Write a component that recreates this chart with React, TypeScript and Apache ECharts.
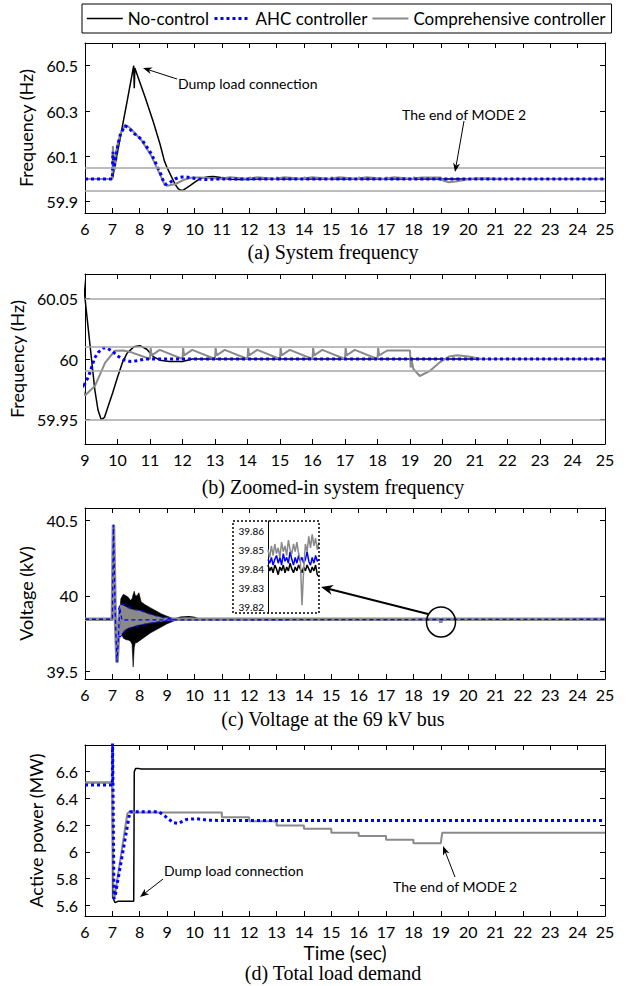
import React, { useEffect, useRef } from 'react';
import * as echarts from 'echarts';

const SANS = 'Lato';
const SERIF = 'Liberation Serif';

// ---------- legend / series names ----------
const seriesNames = ['No-control', 'AHC controller', 'Comprehensive controller'];

// ---------- tick values ----------
const xTicksFull = [6, 25];
const xTicksZoom = [9, 25];
const yTicksFreq = [59.9, 60.1, 60.3, 60.5];
const yTicksFreqZoom = [59.95, 60, 60.05];
const yTicksVolt = [39.5, 40, 40.5];
const yTicksPower = [5.6, 5.8, 6, 6.2, 6.4, 6.6];
const yTicksInset = [39.82, 39.83, 39.84, 39.85, 39.86];

// ---------- (a)/(b) system frequency [time s, Hz] ----------
const freqNoControl: number[][] = [
  [6, 60], [7, 60], [7.3, 60.19], [7.55, 60.35], [7.78, 60.5], [7.8, 60.4], [7.82, 60.49],
  [8.2, 60.36], [8.5, 60.25], [8.75, 60.15], [8.9, 60.08], [9.0, 60.05], [9.1, 60.025],
  [9.2, 60.0], [9.3, 59.975], [9.4, 59.958], [9.5, 59.95], [9.6, 59.952], [9.7, 59.96],
  [9.85, 59.972], [10.0, 59.985], [10.15, 59.997], [10.3, 60.005], [10.5, 60.01],
  [10.69, 60.011], [10.9, 60.008], [11.1, 60.002], [11.3, 59.999], [11.6, 59.998],
  [12.0, 59.998], [12.3, 60.0], [25, 60.0],
];
const freqAHC: number[][] = [
  [6, 60], [7, 60], [7.02, 60.12], [7.06, 60.05], [7.1, 60.07], [7.2, 60.15], [7.3, 60.2],
  [7.46, 60.235], [7.6, 60.225], [7.8, 60.2], [8.07, 60.175], [8.43, 60.11], [8.74, 60.03],
  [8.9, 59.98], [8.95, 59.976], [9.0, 59.98], [9.1, 59.985], [9.2, 59.993], [9.3, 60.001],
  [9.41, 60.0055], [9.56, 60.009], [9.67, 60.009], [9.82, 60.0068], [10.03, 60.002],
  [10.18, 59.9995], [10.38, 59.998], [10.59, 59.9986], [10.85, 60.0], [25, 60.0],
];
const freqComprehensive: number[][] = [
  [6, 60], [7, 60], [7.02, 60.145], [7.05, 60.05], [7.08, 60.04], [7.12, 60.11], [7.2, 60.16],
  [7.3, 60.2], [7.46, 60.237], [7.6, 60.23], [7.8, 60.205], [8.07, 60.17], [8.43, 60.1],
  [8.74, 60.02], [8.9, 59.976], [9.0, 59.97], [9.31, 59.978], [9.62, 59.997], [9.92, 60.0068],
  [10.18, 60.007], [10.43, 60.0055], [11, 60.0],
  [11.02, 60.009], [11.05, 60.003], [11.3, 60.0075], [12, 60.0],
  [12.02, 60.009], [12.05, 60.003], [12.3, 60.0075], [13, 60.0],
  [13.02, 60.009], [13.05, 60.003], [13.3, 60.0075], [14, 60.0],
  [14.02, 60.009], [14.05, 60.003], [14.3, 60.0075], [15, 60.0],
  [15.02, 60.009], [15.05, 60.003], [15.3, 60.0075], [16, 60.0],
  [16.02, 60.009], [16.05, 60.003], [16.3, 60.0075], [17, 60.0],
  [17.02, 60.009], [17.05, 60.003], [17.3, 60.0075], [18, 60.0],
  [18.02, 60.009], [18.05, 60.003], [18.3, 60.007], [19, 60.007],
  [19.02, 59.993], [19.05, 59.999], [19.1, 59.992], [19.3, 59.986], [19.6, 59.99],
  [19.9, 59.997], [20.2, 60.002], [20.45, 60.003], [20.8, 60.002], [21.2, 60.0], [25, 60.0],
];
const freqBandsWide = [60.05, 59.95];
const freqBandsZoom = [60.05, 59.95, 60.005, 59.995];

// ---------- (c) voltage at 69 kV bus [time s, kV] ----------
const voltNoControl: number[][] = [
  [6, 39.842], [7, 39.842], [7.04, 40.46], [7.1, 39.9], [7.17, 39.57], [7.25, 39.8],
  [7.3, 39.84], [9.3, 39.846], [9.5, 39.858], [9.8, 39.862], [10.0, 39.857],
  [10.15, 39.845], [25, 39.845],
];
const voltNoControlBandT = [7.25, 7.31, 7.4, 7.5, 7.58, 7.66, 7.72, 7.76, 7.8, 7.84, 7.9, 7.97, 8.05, 8.2, 8.4, 8.6, 8.8, 9.0, 9.2, 9.35];
const voltNoControlUpper = [39.86, 39.98, 40.01, 40.0, 39.99, 39.97, 39.98, 40.01, 40.03, 40.0, 40.0, 40.02, 39.96, 39.94, 39.92, 39.9, 39.88, 39.865, 39.852, 39.846];
const voltNoControlLower = [39.8, 39.76, 39.72, 39.71, 39.707, 39.7, 39.68, 39.53, 39.66, 39.69, 39.69, 39.7, 39.71, 39.73, 39.755, 39.775, 39.795, 39.815, 39.83, 39.842];

const voltComprehensive: number[][] = [
  [6, 39.845], [7, 39.845], [7.04, 40.47], [7.1, 39.9], [7.17, 39.56], [7.22, 39.72],
  [7.27, 39.92], [7.35, 39.84], [9.3, 39.845], [18.98, 39.845], [19.0, 39.822],
  [19.03, 39.845], [25, 39.845],
];
const voltCompBandT = [7.22, 7.3, 7.45, 7.6, 7.8, 8.0, 8.3, 8.6, 8.9, 9.1, 9.3];
const voltCompUpper = [39.9, 39.94, 39.93, 39.915, 39.905, 39.9, 39.88, 39.865, 39.852, 39.848, 39.846];
const voltCompLower = [39.74, 39.74, 39.775, 39.79, 39.8, 39.81, 39.82, 39.828, 39.835, 39.84, 39.843];

const voltAHC: number[][] = [
  [6, 39.845], [7, 39.845], [7.04, 40.47], [7.1, 39.9], [7.17, 39.56], [7.22, 39.72],
  [7.27, 39.92], [7.35, 39.84], [25, 39.845],
];
const voltAHCUpper = [39.91, 39.95, 39.94, 39.925, 39.91, 39.905, 39.885, 39.868, 39.854, 39.849, 39.846];
const voltAHCLower = [39.73, 39.73, 39.765, 39.783, 39.795, 39.805, 39.816, 39.825, 39.833, 39.839, 39.843];

// inset (zoom around t = 19 s)
const insetT = [18.40, 18.43, 18.46, 18.49, 18.52, 18.55, 18.58, 18.61, 18.64, 18.67, 18.70, 18.73, 18.76, 18.79, 18.82, 18.85, 18.88, 18.91, 18.94, 18.97, 19.00, 19.03, 19.06, 19.09, 19.12, 19.15, 19.18, 19.21, 19.24, 19.27, 19.30];
const insetNoControl = [39.842, 39.839, 39.841, 39.838, 39.842, 39.840, 39.837, 39.841, 39.839, 39.842, 39.838, 39.841, 39.839, 39.843, 39.840, 39.838, 39.841, 39.839, 39.842, 39.840, 39.838, 39.841, 39.839, 39.842, 39.840, 39.838, 39.841, 39.839, 39.842, 39.837, 39.836];
const insetAHC = [39.845, 39.843, 39.846, 39.842, 39.845, 39.847, 39.843, 39.846, 39.842, 39.848, 39.844, 39.846, 39.843, 39.849, 39.845, 39.842, 39.846, 39.843, 39.847, 39.844, 39.846, 39.843, 39.845, 39.849, 39.844, 39.842, 39.846, 39.843, 39.847, 39.844, 39.845];
const insetComprehensive = [39.850, 39.846, 39.852, 39.847, 39.853, 39.848, 39.851, 39.846, 39.854, 39.849, 39.852, 39.847, 39.855, 39.850, 39.848, 39.853, 39.849, 39.854, 39.848, 39.845, 39.821, 39.840, 39.853, 39.849, 39.857, 39.851, 39.858, 39.852, 39.856, 39.850, 39.854];

// ---------- (d) total load demand [time s, MW] ----------
const loadNoControl: number[][] = [
  [6, 6.52], [7, 6.52], [7.01, 5.66], [7.1, 5.62], [7.2, 5.63], [7.78, 5.63], [7.8, 6.6],
  [7.85, 6.625], [7.95, 6.625], [8.05, 6.62], [25, 6.62],
];
const loadAHC: number[][] = [
  [6, 6.5], [7, 6.5], [7.005, 6.9], [7.03, 6.9], [7.06, 5.65], [7.1, 5.67], [7.64, 6.3],
  [8.7, 6.3], [8.92, 6.268], [9.23, 6.218], [9.41, 6.213], [9.71, 6.243], [10.08, 6.248],
  [10.44, 6.238], [11, 6.235], [25, 6.235],
];
const loadComprehensive: number[][] = [
  [6, 6.52], [7, 6.52], [7.04, 5.66], [7.09, 5.67], [7.55, 6.29], [7.65, 6.295],
  [11, 6.295], [11, 6.26], [12, 6.26], [12, 6.23], [13, 6.23], [13, 6.198], [14, 6.198],
  [14, 6.173], [15, 6.173], [15, 6.143], [16, 6.143], [16, 6.118], [17, 6.118], [17, 6.09],
  [18, 6.09], [18, 6.064], [19, 6.064], [19.05, 6.143], [25, 6.143],
];

// ---------- styles ----------
const BLACK = { color: '#000000', width: 1.5, type: 'solid' };
const BLUE = { color: '#0000ff', width: 3, type: [3, 3] };
const GRAY = { color: '#8a8a8a', width: 2, type: 'solid' };

const fmt = (v: number) => String(Math.round(v * 1000) / 1000);

function xAx(gridIndex: number, min: number, max: number, labels: boolean, position: string, extra: any = {}) {
  return {
    type: 'value', gridIndex, min, max, interval: 1, position,
    axisLine: { show: true, onZero: false, lineStyle: { color: '#000', width: 1 } },
    axisTick: { show: true, inside: true, length: 5, lineStyle: { color: '#000' } },
    axisLabel: { show: labels, color: '#000', fontFamily: SANS, fontSize: 16, margin: 7 },
    splitLine: { show: false },
    ...extra,
  };
}
function yAx(gridIndex: number, min: number, max: number, ticks: number[], labels: boolean, position: string, extra: any = {}) {
  return {
    type: 'value', gridIndex, min, max, position,
    axisLine: { show: true, onZero: false, lineStyle: { color: '#000', width: 1 } },
    axisTick: { show: true, inside: true, length: 5, customValues: ticks, lineStyle: { color: '#000' } },
    axisLabel: { show: labels, customValues: ticks, formatter: fmt, color: '#000', fontFamily: SANS, fontSize: 16, margin: 7 },
    splitLine: { show: false },
    nameLocation: 'middle',
    nameTextStyle: { fontFamily: SANS, fontSize: 18, color: '#000' },
    ...extra,
  };
}

function line(name: string, data: number[][], axis: number, style: any, extra: any = {}) {
  return {
    type: 'line', name, data, xAxisIndex: axis, yAxisIndex: axis,
    symbol: 'none', showSymbol: false, silent: true, clip: true,
    lineStyle: style, itemStyle: { color: style.color }, ...extra,
  };
}

// filled envelope of a densely oscillating trace, drawn through the axes' scales
function band(t: number[], lower: number[], upper: number[], axis: number, color: string) {
  return {
    type: 'custom', xAxisIndex: axis, yAxisIndex: axis, silent: true, clip: true,
    data: [[t[0], lower[0]]],
    encode: { x: 0, y: 1 },
    renderItem: (_p: any, api: any) => {
      const pts: number[][] = [];
      t.forEach((x, i) => pts.push(api.coord([x, upper[i]])));
      for (let i = t.length - 1; i >= 0; i--) pts.push(api.coord([t[i], lower[i]]));
      return { type: 'polygon', shape: { points: pts }, style: { fill: color, stroke: color, lineWidth: 0.6 } };
    },
  };
}

function refLines(values: number[]) {
  return {
    silent: true, symbol: ['none', 'none'], label: { show: false },
    lineStyle: { color: '#a6a6a6', width: 1.5, type: 'solid' },
    data: values.map((v) => ({ yAxis: v })),
  };
}

function arrow(x1: number, y1: number, x2: number, y2: number, lw = 1, L = 9, W = 3.5) {
  const dx = x2 - x1, dy = y2 - y1;
  const len = Math.hypot(dx, dy);
  const ux = dx / len, uy = dy / len, nx = -uy, ny = ux;
  const bx = x2 - ux * L, by = y2 - uy * L;
  const mx = x2 - ux * L * 0.7, my = y2 - uy * L * 0.7;
  return [
    { type: 'line', z: 100, shape: { x1, y1, x2: mx, y2: my }, style: { stroke: '#000', lineWidth: lw } },
    { type: 'polygon', z: 100, shape: { points: [[x2, y2], [bx + nx * W, by + ny * W], [mx, my], [bx - nx * W, by - ny * W]] }, style: { fill: '#000' } },
  ];
}

function txt(text: string, x: number, y: number, size: number, family: string, align = 'left') {
  return { type: 'text', z: 100, x, y, style: { text, fontFamily: family, fontSize: size, fill: '#000', align, verticalAlign: 'middle' } };
}

const option: any = {
  animation: false,
  textStyle: { fontFamily: SANS },
  legend: {
    data: seriesNames, left: 82, top: 4, itemWidth: 36, itemHeight: 12, itemGap: 4,
    padding: [6, 6, 6, 4], borderColor: '#000', borderWidth: 1, selectedMode: false,
    textStyle: { fontFamily: SANS, fontSize: 17, color: '#000' },
    lineStyle: { width: 'inherit' },
    itemStyle: { opacity: 0 },
  },
  grid: [
    { left: 85, top: 43, width: 520, height: 170 },
    { left: 85, top: 274, width: 520, height: 170 },
    { left: 85, top: 508, width: 520, height: 171 },
    { left: 85, top: 745, width: 520, height: 171 },
    { left: 268, top: 521, width: 51, height: 92 },
  ],
  xAxis: [
    xAx(0, xTicksFull[0], xTicksFull[1], true, 'bottom'),
    xAx(1, xTicksZoom[0], xTicksZoom[1], true, 'bottom'),
    xAx(2, xTicksFull[0], xTicksFull[1], true, 'bottom'),
    xAx(3, xTicksFull[0], xTicksFull[1], true, 'bottom', {
      name: 'Time (sec)', nameLocation: 'middle', nameGap: 27,
      nameTextStyle: { fontFamily: SANS, fontSize: 19, color: '#000' },
    }),
    { type: 'value', gridIndex: 4, min: insetT[0], max: insetT[insetT.length - 1], show: false },
    xAx(0, xTicksFull[0], xTicksFull[1], false, 'top'),
    xAx(1, xTicksZoom[0], xTicksZoom[1], false, 'top'),
    xAx(2, xTicksFull[0], xTicksFull[1], false, 'top'),
    xAx(3, xTicksFull[0], xTicksFull[1], false, 'top'),
  ],
  yAxis: [
    yAx(0, 59.85, 60.6, yTicksFreq, true, 'left', { name: 'Frequency (Hz)', nameGap: 44 }),
    yAx(1, 59.93, 60.07, yTicksFreqZoom, true, 'left', { name: 'Frequency (Hz)', nameGap: 48 }),
    yAx(2, 39.45, 40.58, yTicksVolt, true, 'left', { name: 'Voltage (kV)', nameGap: 44 }),
    yAx(3, 5.52, 6.8, yTicksPower, true, 'left', { name: 'Active power (MW)', nameGap: 32 }),
    {
      type: 'value', gridIndex: 4, min: 39.817, max: 39.865, position: 'left',
      axisLine: { show: true, onZero: false, lineStyle: { color: '#000', width: 1 } },
      axisTick: { show: false },
      axisLabel: { customValues: yTicksInset, formatter: (v: number) => v.toFixed(2), color: '#000', fontFamily: SANS, fontSize: 10, margin: 4 },
      splitLine: { show: false },
    },
    yAx(0, 59.85, 60.6, yTicksFreq, false, 'right'),
    yAx(1, 59.93, 60.07, yTicksFreqZoom, false, 'right'),
    yAx(2, 39.45, 40.58, yTicksVolt, false, 'right'),
    yAx(3, 5.52, 6.8, yTicksPower, false, 'right'),
  ],
  series: [
    // (a)
    line(seriesNames[0], freqNoControl, 0, BLACK, { markLine: refLines(freqBandsWide) }),
    line(seriesNames[2], freqComprehensive, 0, GRAY),
    line(seriesNames[1], freqAHC, 0, BLUE),
    // (b)
    line(seriesNames[0], freqNoControl, 1, BLACK, { markLine: refLines(freqBandsZoom) }),
    line(seriesNames[2], freqComprehensive, 1, GRAY),
    line(seriesNames[1], freqAHC, 1, BLUE),
    // (c)
    band(voltNoControlBandT, voltNoControlLower, voltNoControlUpper, 2, '#000000'),
    line(seriesNames[0], voltNoControl, 2, BLACK),
    band(voltCompBandT, voltCompLower, voltCompUpper, 2, '#8a8a8a'),
    line(seriesNames[2], voltComprehensive, 2, { ...GRAY, width: 3.5 }),
    line(seriesNames[1], voltAHC, 2, { color: '#0000ff', width: 1.3, type: [4, 3] }),
    line('ahc-up', voltCompBandT.map((t, i) => [t, voltAHCUpper[i]]), 2, { color: '#0000ff', width: 1.2, type: [4, 3] }),
    line('ahc-lo', voltCompBandT.map((t, i) => [t, voltAHCLower[i]]), 2, { color: '#0000ff', width: 1.2, type: [4, 3] }),
    // inset
    line(seriesNames[0], insetT.map((t, i) => [t, insetNoControl[i]]), 4, { color: '#000', width: 1.5 }),
    line(seriesNames[1], insetT.map((t, i) => [t, insetAHC[i]]), 4, { color: '#0000ff', width: 1.5 }),
    line(seriesNames[2], insetT.map((t, i) => [t, insetComprehensive[i]]), 4, { color: '#8a8a8a', width: 1.5 }),
    // (d)
    line(seriesNames[0], loadNoControl, 3, BLACK),
    line(seriesNames[2], loadComprehensive, 3, GRAY),
    line(seriesNames[1], loadAHC, 3, BLUE),
  ],
  graphic: [
    txt('(a) System frequency', 333, 252, 20, SERIF, 'center'),
    txt('(b) Zoomed-in system frequency', 333, 487, 20, SERIF, 'center'),
    txt('(c) Voltage at the 69 kV bus', 333, 719, 20, SERIF, 'center'),
    txt('(d) Total load demand', 333, 973, 20, SERIF, 'center'),
    txt('Dump load connection', 178, 83, 14, SANS),
    txt('The end of MODE 2', 402, 114, 14, SANS),
    txt('Dump load connection', 164, 870, 14, SANS),
    txt('The end of MODE 2', 393, 886, 14, SANS),
    ...arrow(177, 79, 143, 68),
    ...arrow(464, 121, 455, 172),
    ...arrow(163, 879, 140, 897),
    ...arrow(455, 877, 443, 846),
    ...arrow(428, 614, 321, 587, 2, 12, 5),
    { type: 'ellipse', z: 100, shape: { cx: 441, cy: 622, rx: 14.5, ry: 15 }, style: { fill: 'none', stroke: '#000', lineWidth: 1.5 } },
    { type: 'rect', z: 100, shape: { x: 233, y: 521, width: 86, height: 92 }, style: { fill: 'none', stroke: '#000', lineWidth: 1.5, lineDash: [2, 2] } },
  ],
};

export default function App() {
  const ref = useRef<HTMLDivElement>(null);
  useEffect(() => {
    document.body.style.margin = '0';
    const chart = echarts.init(ref.current as HTMLDivElement, undefined, { renderer: 'svg', width: 628, height: 986 });
    chart.setOption(option);
    return () => chart.dispose();
  }, []);
  return <div ref={ref} style={{ width: 628, height: 986 }} />;
}
